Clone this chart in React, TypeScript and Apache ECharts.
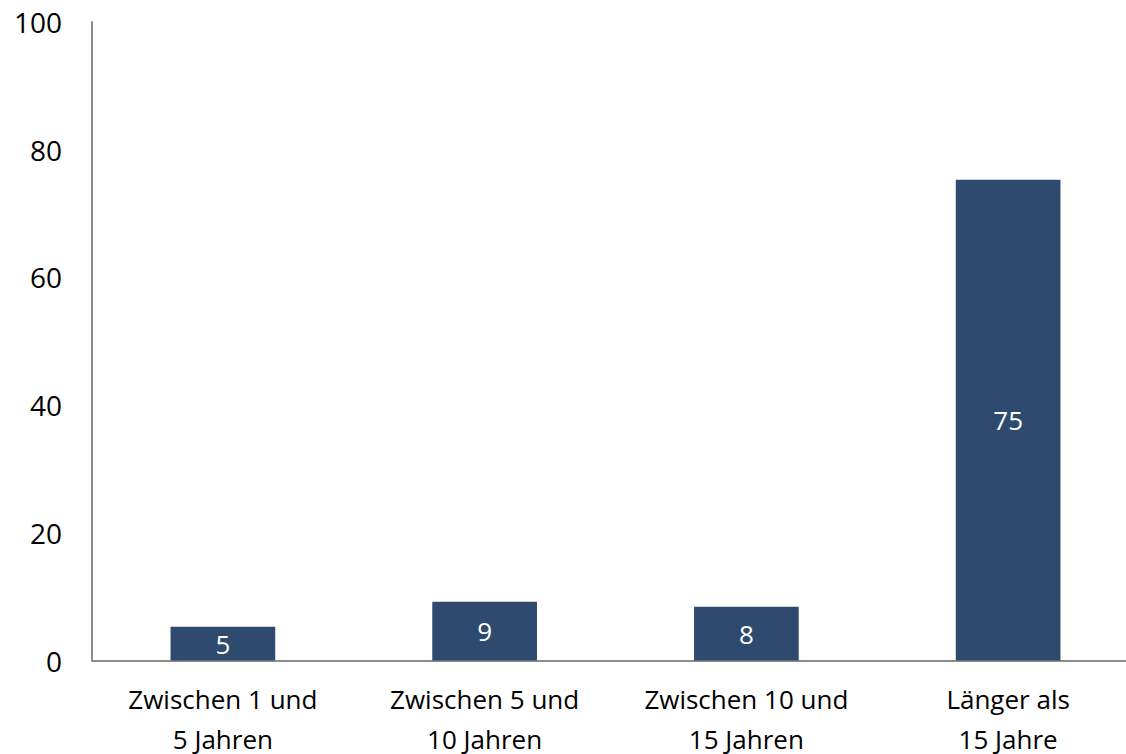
import React, { useEffect, useRef } from "react";
import * as echarts from "echarts";

const categories = [
  "Zwischen 1 und\n5 Jahren",
  "Zwischen 5 und\n10 Jahren",
  "Zwischen 10 und\n15 Jahren",
  "Länger als\n15 Jahre",
];
const values = [5.3, 9.2, 8.4, 75.3];
const yTicks = { min: 0, max: 100, interval: 20 };

export default function App() {
  const ref = useRef<HTMLDivElement>(null);
  useEffect(() => {
    if (!ref.current) return;
    const chart = echarts.init(ref.current, null, { renderer: "svg" });
    const font = "'Open Sans', 'Noto Sans', sans-serif";
    chart.setOption({
      animation: false,
      backgroundColor: "#ffffff",
      grid: {
        left: 92,
        right: 0,
        top: 22,
        bottom: 93.5,
        containLabel: false,
        outerBoundsMode: "none",
      },
      xAxis: {
        type: "category",
        data: categories,
        axisLine: { show: true, lineStyle: { color: "#8c8c8c", width: 2 } },
        axisTick: { show: false },
        axisLabel: {
          color: "#000000",
          fontFamily: font,
          fontSize: 26,
          lineHeight: 40,
          margin: 18,
          interval: 0,
        },
      },
      yAxis: {
        type: "value",
        min: yTicks.min,
        max: yTicks.max,
        interval: yTicks.interval,
        splitLine: { show: false },
        axisLine: { show: true, lineStyle: { color: "#8c8c8c", width: 2 } },
        axisTick: { show: false },
        axisLabel: {
          color: "#000000",
          fontFamily: font,
          fontSize: 28,
          margin: 30,
        },
      },
      series: [
        {
          type: "bar",
          data: values,
          barWidth: "40%",
          itemStyle: { color: "#2E4A6F" },
          label: {
            show: true,
            position: "inside",
            color: "#ffffff",
            fontFamily: font,
            fontSize: 26,
            formatter: (p: any) => String(Math.round(p.value)),
          },
        },
      ],
    });
    return () => chart.dispose();
  }, []);
  return (
    <div
      style={{
        position: "fixed",
        left: 0,
        top: 0,
        width: 1126,
        height: 754,
        overflow: "hidden",
        background: "#ffffff",
      }}
    >
      <div ref={ref} style={{ width: 1139, height: 754 }} />
    </div>
  );
}
